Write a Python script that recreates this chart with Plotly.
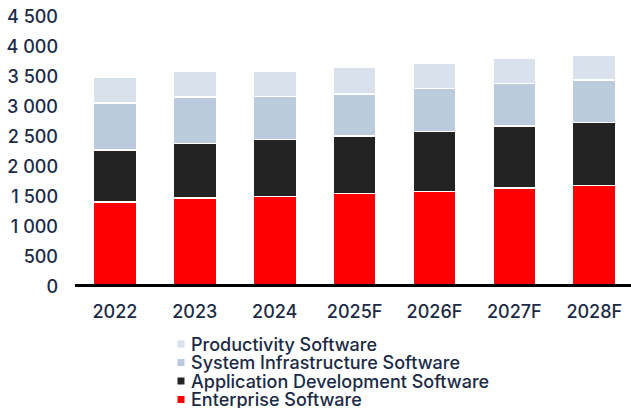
import plotly.graph_objects as go

# Software market by segment, 2022-2028F
years = ["2022", "2023", "2024", "2025F", "2026F", "2027F", "2028F"]
enterprise = [1415, 1480, 1510, 1560, 1595, 1650, 1695]
app_dev = [865, 910, 945, 960, 1000, 1030, 1050]
sys_infra = [790, 775, 720, 700, 715, 715, 705]
productivity = [425, 435, 420, 435, 415, 415, 410]

series_names = [
    "Enterprise Software",
    "Application Development Software",
    "System Infrastructure Software",
    "Productivity Software",
]
series_values = [enterprise, app_dev, sys_infra, productivity]
series_colors = ["#ff0000", "#232323", "#bccadd", "#d9e1ec"]

y_tickvals = [0, 500, 1000, 1500, 2000, 2500, 3000, 3500, 4000, 4500]

TEXT = "#1b2a46"
FONT = "Inter"
FSIZE = 18
FWEIGHT = 500

W, H = 631, 408
L, R, T, B = 75, 0, 17, 121
plot_h = H - T - B

fig = go.Figure()
for name, vals, col in zip(series_names, series_values, series_colors):
    fig.add_trace(go.Bar(
        x=years, y=vals, name=name,
        marker=dict(color=col, line=dict(color="white", width=1.5)),
        showlegend=False,
    ))

# baseline rule
fig.add_shape(type="line", xref="paper", yref="y", x0=0, x1=1, y0=0, y1=0,
              line=dict(color="black", width=6))

# custom legend: small squares with labels, top entry = last series
row_px = [344, 362.5, 381, 399.5]
for i, (name, col) in enumerate(zip(reversed(series_names), reversed(series_colors))):
    yc = row_px[i]
    ypaper = (H - B - yc) / plot_h
    half = 3.5 / plot_h
    x0 = (177.5 - L) / (W - L - R)
    x1 = (184.5 - L) / (W - L - R)
    fig.add_shape(type="rect", xref="paper", yref="paper",
                  x0=x0, x1=x1, y0=ypaper - half, y1=ypaper + half,
                  fillcolor=col, line=dict(width=0))
    fig.add_annotation(text=name, xref="paper", yref="paper",
                       x=(189 - L) / (W - L - R), y=ypaper,
                       xanchor="left", yanchor="middle", showarrow=False,
                       font=dict(family=FONT, size=FSIZE, color=TEXT, weight=FWEIGHT))

tick_font = dict(family=FONT, size=FSIZE, color=TEXT, weight=FWEIGHT)

fig.update_layout(
    width=W, height=H,
    margin=dict(l=L, r=R, t=T, b=B),
    barmode="stack", bargap=0.46,
    plot_bgcolor="white", paper_bgcolor="white",
    separators=". ",
    font=dict(family=FONT, size=FSIZE, color=TEXT),
    xaxis=dict(range=[-0.5, 6.46], showline=False, showgrid=False, ticks="",
               zeroline=False, tickfont=tick_font, ticklabelstandoff=12),
    yaxis=dict(range=[0, 4500], tickvals=y_tickvals, tickformat=",d",
               showgrid=False, zeroline=False, showline=False, ticks="",
               tickfont=tick_font, ticklabelstandoff=16),
)

fig.write_html("out.html")
